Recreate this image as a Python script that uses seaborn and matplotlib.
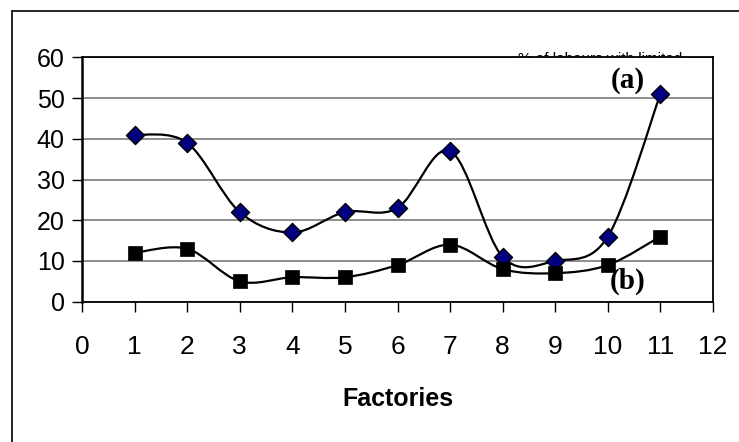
import numpy as np
import matplotlib
matplotlib.use("Agg")
import matplotlib.pyplot as plt
import seaborn as sns
from matplotlib.path import Path
from matplotlib.patches import PathPatch
from matplotlib.lines import Line2D

# data
factories = [1, 2, 3, 4, 5, 6, 7, 8, 9, 10, 11]
series_a = [41, 39, 22, 17, 22, 23, 37, 11, 10, 16, 51]
series_b = [12, 13, 5, 6, 6, 9, 14, 8, 7, 9, 16]
x_ticks = list(range(0, 13))
y_ticks = [0, 10, 20, 30, 40, 50, 60]


def smooth_path(xs, ys):
	# Excel-like smoothed line: cubic bezier through the points
	pts = np.column_stack([xs, ys]).astype(float)
	n = len(pts)
	verts = [pts[0]]
	codes = [Path.MOVETO]
	for i in range(n - 1):
		p0 = pts[max(i - 1, 0)]
		p1 = pts[i]
		p2 = pts[i + 1]
		p3 = pts[min(i + 2, n - 1)]
		c1 = p1 + (p2 - p0) / 6.0
		c2 = p2 - (p3 - p1) / 6.0
		verts += [c1, c2, p2]
		codes += [Path.CURVE4] * 3
	return Path(verts, codes)


sns.set_style("white")
plt.rcParams['font.family'] = ['Liberation Sans', 'DejaVu Sans']
plt.rcParams['text.color'] = 'black'
plt.rcParams['xtick.color'] = 'black'
plt.rcParams['ytick.color'] = 'black'
plt.rcParams['axes.labelcolor'] = 'black'

fig = plt.figure(figsize=(7.39, 4.42), dpi=100)
ax = fig.add_axes([82 / 739, 1 - 301.7 / 442, (713 - 82) / 739, (301.7 - 57.3) / 442])

for ys in (series_a, series_b):
	ax.add_patch(PathPatch(smooth_path(factories, ys), facecolor="none",
						   edgecolor="black", lw=1.6, zorder=3))

sns.scatterplot(x=factories, y=series_a, marker="D", s=85, color="#000080",
				edgecolor="black", linewidth=1, zorder=4, ax=ax, legend=False)
sns.scatterplot(x=factories, y=series_b, marker="s", s=115, color="black",
				edgecolor="black", linewidth=0.5, zorder=4, ax=ax, legend=False)

ax.set_xlim(0, 12)
ax.set_ylim(0, 60)
ax.set_xticks(x_ticks)
ax.set_yticks(y_ticks)
ax.yaxis.grid(True, color="#707070", lw=1.1)
ax.set_axisbelow(True)
for s in ax.spines.values():
	s.set_color("black")
	s.set_linewidth(1.3)
ax.spines["left"].set_linewidth(1.8)
ax.tick_params(axis="both", direction="out", length=7, width=1, color="black",
			   left=True, bottom=True)
ax.tick_params(axis="y", labelsize=18, pad=5.5)
ax.tick_params(axis="x", labelsize=19, pad=17)
ax.set_xlabel("Factories", fontsize=18, fontweight="bold", labelpad=20)

ax.text(10.38, 54.4, "(a)", family=["Liberation Serif"], fontweight="bold",
		fontsize=21, ha="center", va="center")
ax.text(10.38, 5.1, "(b)", family=["Liberation Serif"], fontweight="bold",
		fontsize=21, ha="center", va="center")

# legend text mostly hidden behind the plot area
fig.text(518 / 739, 1 - 52 / 442, "% of labours with limited", fontsize=11,
		 va="top", ha="left", zorder=-1)

# outer chart border (left and top only visible)
fig.add_artist(Line2D([12 / 739, 12 / 739], [0, 1 - 11 / 442], color="black", lw=1.2))
fig.add_artist(Line2D([12 / 739, 1], [1 - 11 / 442, 1 - 11 / 442], color="black", lw=1.2))

fig.savefig("out.png", dpi=100)
